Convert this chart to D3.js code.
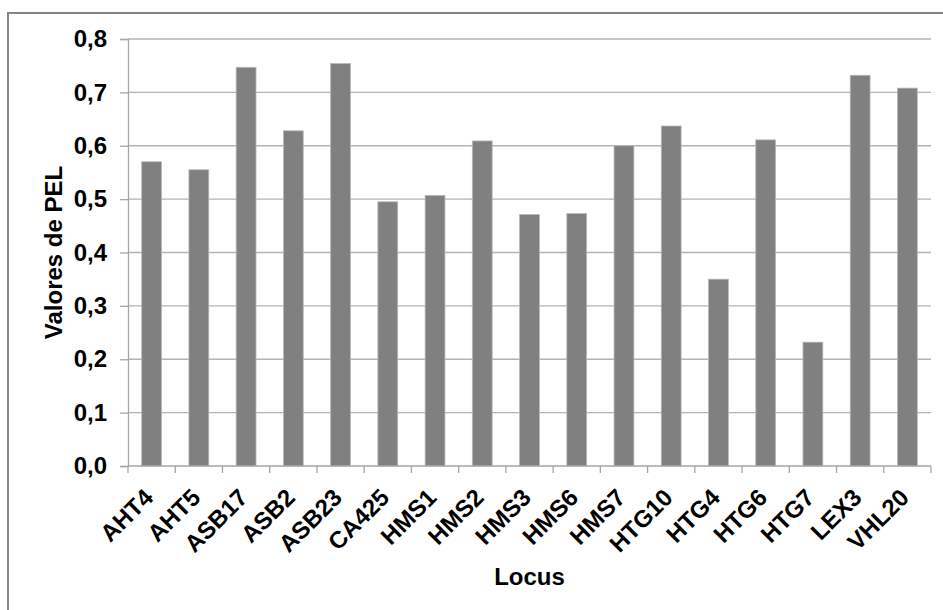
<!DOCTYPE html>
<html>
<head>
<meta charset="utf-8">
<script src="https://cdn.jsdelivr.net/npm/d3@7"></script>
<style>
  html, body { margin: 0; padding: 0; background: #fff; }
  svg { display: block; }
  text { font-family: "Liberation Sans", Arial, sans-serif; font-weight: bold; fill: #000; }
</style>
</head>
<body>
<svg id="chart" width="943" height="610"></svg>
<script>
const categories = ["AHT4","AHT5","ASB17","ASB2","ASB23","CA425","HMS1","HMS2","HMS3","HMS6","HMS7","HTG10","HTG4","HTG6","HTG7","LEX3","VHL20"];
const values = [0.570,0.555,0.747,0.628,0.754,0.495,0.507,0.609,0.471,0.473,0.600,0.637,0.350,0.611,0.232,0.732,0.708];
const yTicks = [0,0.1,0.2,0.3,0.4,0.5,0.6,0.7,0.8];
const yTitle = "Valores de PEL";
const xTitle = "Locus";

const svg = d3.select("#chart");
const pLeft = 128, pRight = 931, pTop = 39, pBottom = 466;

// outer chart border
svg.append("rect")
  .attr("x", 8).attr("y", 13).attr("width", 960).attr("height", 620)
  .attr("fill", "none").attr("stroke", "#858585").attr("stroke-width", 2);

const y = d3.scaleLinear().domain([0, 0.8]).range([pBottom, pTop]);
const xBand = d3.scaleBand().domain(categories).range([pLeft, pRight]).paddingInner(0.58).paddingOuter(0.29);
const xCell = d3.scaleBand().domain(categories).range([pLeft, pRight]).padding(0);

// gridlines
svg.append("g").selectAll("line").data(yTicks.filter(d => d > 0)).join("line")
  .attr("x1", pLeft).attr("x2", pRight)
  .attr("y1", d => y(d)).attr("y2", d => y(d))
  .attr("stroke", "#b4b4b4").attr("stroke-width", 1.3);

// y axis
const yAxis = d3.axisLeft(y).tickValues(yTicks).tickSize(8).tickPadding(13)
  .tickFormat(d => d3.format(".1f")(d).replace(".", ","));
const gy = svg.append("g").attr("transform", `translate(${pLeft},0)`).call(yAxis);
gy.select(".domain").attr("stroke", "#a6a6a6").attr("stroke-width", 1.3);
gy.selectAll(".tick line").attr("stroke", "#a6a6a6").attr("stroke-width", 1.3);
gy.selectAll(".tick text").style("font-size", "24px").style("font-weight", "bold")
  .style("font-family", "'Liberation Sans', Arial, sans-serif").attr("fill", "#000");

// bars
svg.append("g").selectAll("rect").data(categories).join("rect")
  .attr("x", d => xBand(d))
  .attr("y", (d, i) => y(values[i]))
  .attr("width", xBand.bandwidth())
  .attr("height", (d, i) => pBottom - y(values[i]))
  .attr("fill", "#808080")
  .attr("stroke", "#b8b8b8").attr("stroke-width", 0.8);

// x axis line and ticks at category boundaries
const gx = svg.append("g");
gx.append("line").attr("x1", pLeft).attr("x2", pRight).attr("y1", pBottom).attr("y2", pBottom)
  .attr("stroke", "#a6a6a6").attr("stroke-width", 1.3);
const bounds = categories.map(c => xCell(c)).concat([xCell(categories[categories.length-1]) + xCell.bandwidth()]);
gx.selectAll("line.t").data(bounds).join("line").attr("class", "t")
  .attr("x1", d => d).attr("x2", d => d).attr("y1", pBottom).attr("y2", pBottom + 7)
  .attr("stroke", "#a6a6a6").attr("stroke-width", 1.3);

// x labels rotated
gx.selectAll("text").data(categories).join("text")
  .attr("transform", d => `translate(${xCell(d) + xCell.bandwidth()/2 + 3},${pBottom + 33}) rotate(-45)`)
  .attr("text-anchor", "end")
  .style("font-size", "24px")
  .text(d => d);

// axis titles
svg.append("text")
  .attr("transform", `translate(62,${(pTop + pBottom)/2}) rotate(-90)`)
  .attr("text-anchor", "middle")
  .style("font-size", "24px")
  .text(yTitle);

svg.append("text")
  .attr("x", (pLeft + pRight)/2).attr("y", 585)
  .attr("text-anchor", "middle")
  .style("font-size", "24px")
  .text(xTitle);
</script>
</body>
</html>
